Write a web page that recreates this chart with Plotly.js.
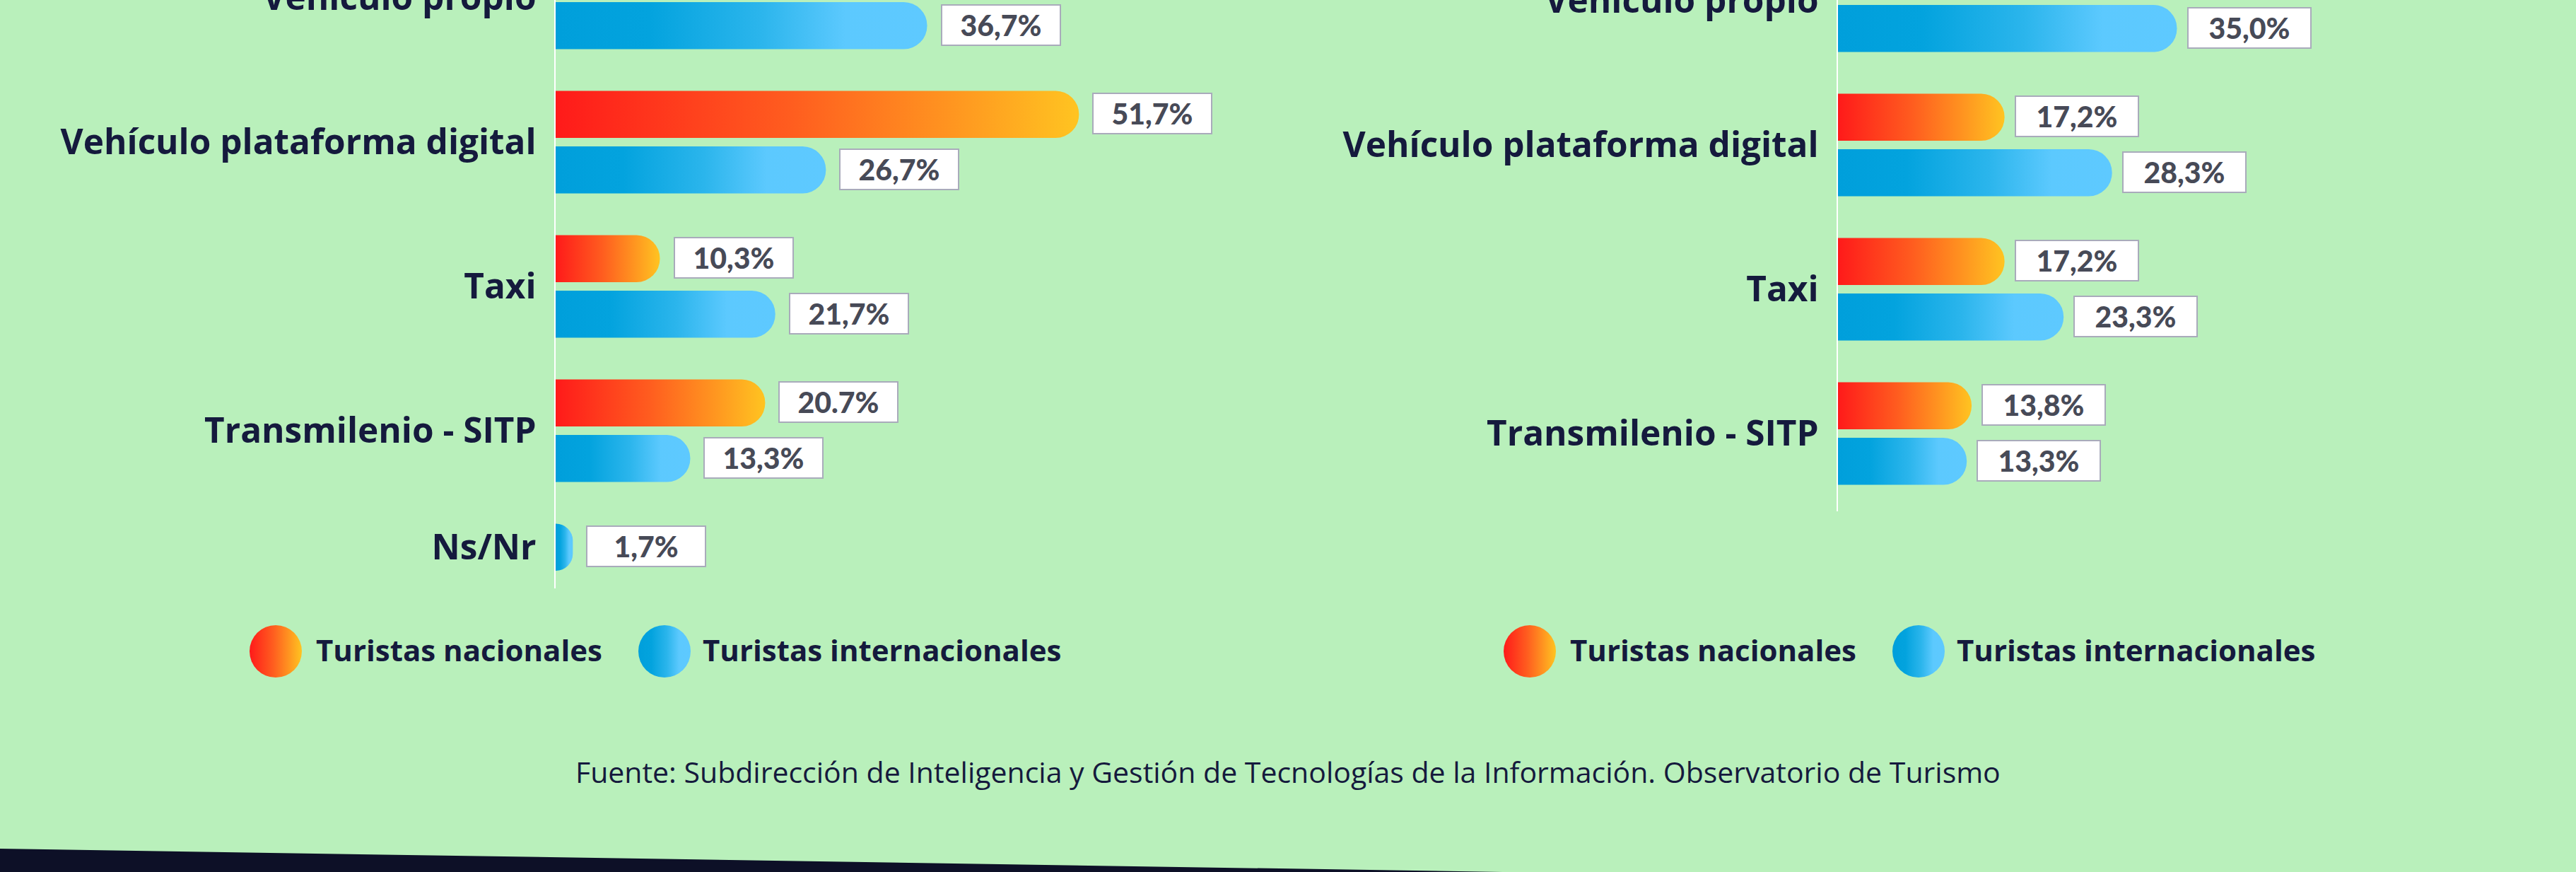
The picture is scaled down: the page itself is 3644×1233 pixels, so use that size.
<!DOCTYPE html>
<html><head><meta charset="utf-8">
<script src="https://cdn.plot.ly/plotly-3.0.1.min.js"></script>
<style>
html,body{margin:0;padding:0;width:3644px;height:1233px;overflow:hidden;background:#b9f0bb;}
#chart{position:absolute;left:0;top:-300px;width:3644px;height:1533px;}
</style></head><body><div id="chart"></div>
<script>
// ---------- data ----------
const categoriesLeft = ['Vehículo propio', 'Vehículo plataforma digital', 'Taxi', 'Transmilenio - SITP', 'Ns/Nr'];
const nacionalesLeft = [17.2, 51.7, 10.3, 20.7, null];
const internacionalesLeft = [36.7, 26.7, 21.7, 13.3, 1.7];
const nacLabelsLeft = ['17,2%', '51,7%', '10,3%', '20.7%', ''];
const intLabelsLeft = ['36,7%', '26,7%', '21,7%', '13,3%', '1,7%'];

const categoriesRight = ['Vehículo propio', 'Vehículo plataforma digital', 'Taxi', 'Transmilenio - SITP'];
const nacionalesRight = [51.7, 17.2, 17.2, 13.8];
const internacionalesRight = [35.0, 28.3, 23.3, 13.3];
const nacLabelsRight = ['51,7%', '17,2%', '17,2%', '13,8%'];
const intLabelsRight = ['35,0%', '28,3%', '23,3%', '13,3%'];

const seriesNames = ['Turistas nacionales', 'Turistas internacionales'];
const sourceText = 'Fuente: Subdirección de Inteligencia y Gestión de Tecnologías de la Información. Observatorio de Turismo';

// ---------- layout helpers ----------
const W = 3644, H = 1233, OFF = 300, DH = H + OFF;
const px = x => x / W;
const py = y => 1 - (y + OFF) / DH;
const UNIT = 204;
const BAR = 66.5 / UNIT, GAP = 12 / UNIT, PAD = 59 / UNIT, HALF = (BAR + GAP) / 2;
const NAC_COL = 'rgb(255, 80, 31)', INT_COL = 'rgb(17, 168, 228)';
const NAVY = '#151a3d';

function positions(nac, intl) {
  const centers = [], yN = [], yI = [];
  let c = 0, prevSize = 0;
  for (let i = 0; i < intl.length; i++) {
    const hasN = nac[i] != null, hasI = intl[i] != null;
    const n = (hasN ? 1 : 0) + (hasI ? 1 : 0);
    const size = n * BAR + (n - 1) * GAP + PAD;
    if (i > 0) c += prevSize / 2 + size / 2;
    prevSize = size;
    centers.push(c);
    yN.push(hasN ? (n === 2 ? c - HALF : c) : null);
    yI.push(hasI ? (n === 2 ? c + HALF : c) : null);
  }
  return {centers, yN, yI};
}

const charts = [
  {cats: categoriesLeft, nac: nacionalesLeft, intl: internacionalesLeft, nl: nacLabelsLeft, il: intLabelsLeft,
   xa: 'x', ya: 'y', axisX: 786, topY: -3, endY: 832, ppp: 14.32, shift: 19, boxW: 170,
   legend: [390, 445, 940, 992]},
  {cats: categoriesRight, nac: nacionalesRight, intl: internacionalesRight, nl: nacLabelsRight, il: intLabelsRight,
   xa: 'x2', ya: 'y2', axisX: 2600, topY: 1, endY: 723, ppp: 13.70, shift: 14, boxW: 176,
   legend: [2164, 2219, 2714, 2766]}
];

const data = [], annotations = [], shapes = [];
const layout = {
  width: W, height: DH, margin: {l: 0, r: 0, t: 0, b: 0},
  paper_bgcolor: '#b9f0bb', plot_bgcolor: 'rgba(0,0,0,0)',
  barmode: 'overlay', showlegend: false, font: {family: 'Open Sans', color: NAVY}
};

const XMAX = 60;
charts.forEach((ch, k) => {
  const p = positions(ch.nac, ch.intl);
  const suffix = k === 0 ? '' : '2';
  layout['xaxis' + suffix] = {
    domain: [px(ch.axisX), px(ch.axisX + XMAX * ch.ppp)], range: [0, XMAX],
    visible: false, showgrid: false, zeroline: false, anchor: ch.ya, fixedrange: true
  };
  layout['yaxis' + suffix] = {
    domain: [py(ch.endY), 1],
    range: [(ch.endY - ch.topY) / UNIT, -(ch.topY + OFF) / UNIT],
    anchor: ch.xa, showgrid: false, zeroline: false,
    showline: true, linecolor: '#ffffff', linewidth: 2.5,
    tickmode: 'array', tickvals: p.centers, ticktext: ch.cats,
    ticks: '', ticklabelstandoff: 15, automargin: false,
    tickfont: {family: 'Open Sans', weight: 700, size: 49.5, color: NAVY}
  };
  data.push({
    type: 'bar', orientation: 'h', x: ch.nac, y: p.yN, width: BAR,
    xaxis: ch.xa, yaxis: ch.ya, name: seriesNames[0], hoverinfo: 'skip',
    marker: {color: NAC_COL, cornerradius: '50%', line: {width: 0}}
  });
  data.push({
    type: 'bar', orientation: 'h', x: ch.intl, y: p.yI, width: BAR,
    xaxis: ch.xa, yaxis: ch.ya, name: seriesNames[1], hoverinfo: 'skip',
    marker: {color: INT_COL, cornerradius: '50%', line: {width: 0}}
  });
  const addLabel = (v, y, t) => {
    if (v == null || !t) return;
    annotations.push({
      x: v, y: y, xref: ch.xa, yref: ch.ya, text: t, showarrow: false,
      xanchor: 'left', yanchor: 'middle', xshift: ch.shift, yshift: 1,
      width: ch.boxW - 4, height: 55, align: 'center', valign: 'middle',
      bgcolor: '#ffffff', bordercolor: '#a9abbb', borderwidth: 2, borderpad: 0,
      font: {family: 'Lato', weight: 900, size: 41, color: '#474a57'}
    });
  };
  ch.nac.forEach((v, i) => addLabel(v, p.yN[i], ch.nl[i]));
  ch.intl.forEach((v, i) => addLabel(v, p.yI[i], ch.il[i]));

  // legend
  const [cN, tN, cI, tI] = ch.legend;
  const LY = 921, R = 37;
  [[cN, NAC_COL], [cI, INT_COL]].forEach(([cx, col]) => {
    shapes.push({type: 'circle', xref: 'paper', yref: 'paper',
      x0: px(cx - R), x1: px(cx + R), y0: py(LY + R), y1: py(LY - R),
      fillcolor: col, line: {width: 0}});
  });
  [[tN, seriesNames[0]], [tI, seriesNames[1]]].forEach(([tx, txt]) => {
    annotations.push({x: px(tx), y: py(918), xref: 'paper', yref: 'paper', text: txt,
      showarrow: false, xanchor: 'left', yanchor: 'middle',
      font: {family: 'Open Sans', weight: 700, size: 42, color: NAVY}});
  });
});

annotations.push({x: px(1822), y: py(1091), xref: 'paper', yref: 'paper', text: sourceText,
  showarrow: false, xanchor: 'center', yanchor: 'middle',
  font: {family: 'Open Sans', weight: 500, size: 41, color: NAVY}});

shapes.push({type: 'path', xref: 'paper', yref: 'paper', layer: 'above',
  path: `M ${px(0)},${py(1200)} L ${px(2190)},${py(1234)} L ${px(2190)},${py(1240)} L ${px(0)},${py(1240)} Z`,
  fillcolor: 'rgb(13, 16, 39)', line: {width: 0}});

layout.annotations = annotations;
layout.shapes = shapes;

Plotly.newPlot('chart', data, layout, {staticPlot: true, displayModeBar: false}).then(gd => {
  const ns = 'http://www.w3.org/2000/svg';
  const svg = gd.querySelector('svg.main-svg');
  const defs = document.createElementNS(ns, 'defs');
  svg.insertBefore(defs, svg.firstChild);
  const grad = (id, stops) => {
    const g = document.createElementNS(ns, 'linearGradient');
    g.setAttribute('id', id);
    g.setAttribute('x1', '0'); g.setAttribute('y1', '0');
    g.setAttribute('x2', '1'); g.setAttribute('y2', '0');
    stops.forEach(([o, c]) => {
      const s = document.createElementNS(ns, 'stop');
      s.setAttribute('offset', o); s.setAttribute('stop-color', c);
      g.appendChild(s);
    });
    defs.appendChild(g);
  };
  grad('gNac', [[0, '#ff1a1a'], [0.45, '#ff5d1f'], [0.75, '#ff9420'], [1, '#ffc421']]);
  grad('gInt', [[0, '#009fdb'], [0.25, '#03a3de'], [0.55, '#2bb5ec'], [0.78, '#5cc9fe'], [1, '#5ec9ff']]);
  gd.querySelectorAll('path').forEach(el => {
    const f = el.style.fill;
    if (f === NAC_COL) el.style.fill = 'url(#gNac)';
    else if (f === INT_COL) el.style.fill = 'url(#gInt)';
  });
});
</script></body></html>
